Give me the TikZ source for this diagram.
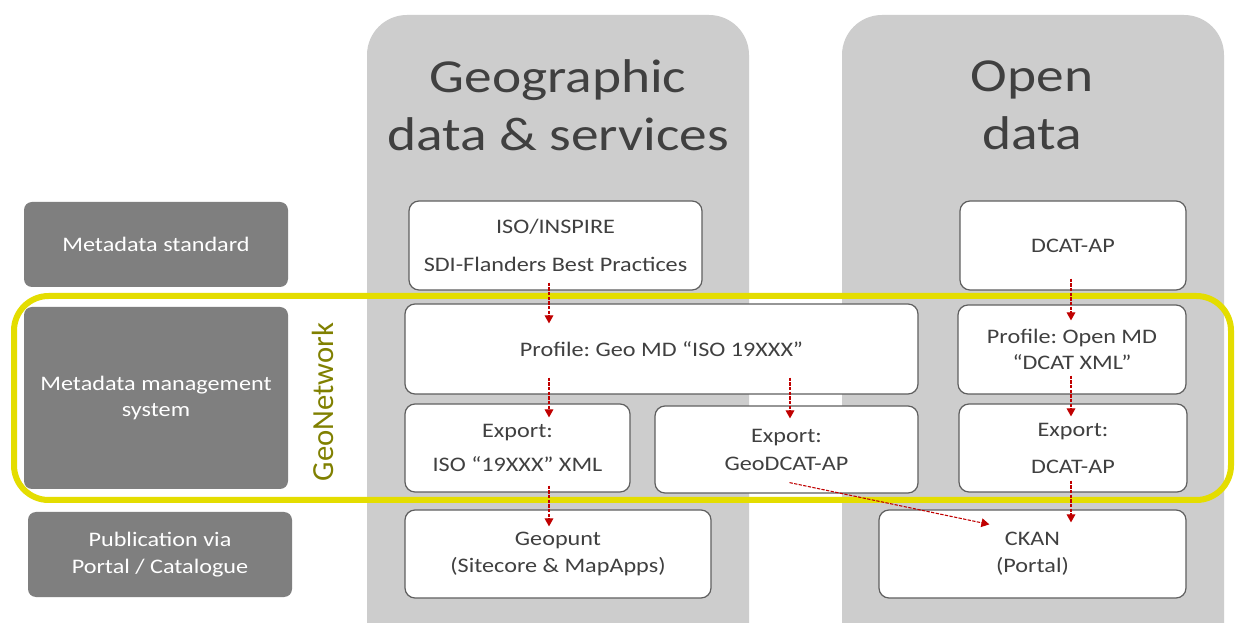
\documentclass[tikz,border=0pt]{standalone}
\usepackage{fontspec}
\setmainfont{Carlito}[FakeStretch=1.17]
\newfontfamily\gnfont{Carlito}
\usetikzlibrary{arrows.meta,calc}
\definecolor{colgray}{RGB}{205,205,205}
\definecolor{labgray}{RGB}{127,127,127}
\definecolor{txtgray}{RGB}{64,64,64}
\definecolor{edgegray}{RGB}{95,95,95}
\definecolor{gnyellow}{RGB}{228,221,0}
\definecolor{gnolive}{RGB}{128,128,0}
\definecolor{flowred}{RGB}{192,0,0}
\frenchspacing
\begin{document}
\begin{tikzpicture}[x=0.75pt, y=-0.75pt,
    font=\fontsize{15.5}{20}\selectfont,
    column/.style={fill=colgray, rounded corners=30pt},
    coltitle/.style={txtgray, align=center, inner sep=0pt, font=\fontsize{35.5}{43.5}\selectfont},
    layer/.style={fill=labgray, text=white, rounded corners=6pt, align=center, inner sep=0pt},
    mdbox/.style={draw=edgegray, line width=0.9pt, fill=white, text=txtgray, rounded corners=7.5pt, align=center, inner sep=0pt},
    flow/.style={flowred, line width=0.8pt, dash pattern=on 2.5pt off 1pt, -{Triangle[length=6pt,width=6.5pt]}}]
  \useasboundingbox (0,0) rectangle (1236,623);
  \clip (0,0) rectangle (1236,623);
  \fill[white] (0,0) rectangle (1236,623);
  \fill[column] (367,15) rectangle (749,680);
  \fill[column] (842,15) rectangle (1224,680);
  \node[coltitle] (geotitle) at (558,105) {Geographic\\data \& services};
  \node[coltitle] (opentitle) at (1032,105) {Open\\data};
  \draw[gnyellow, line width=4.5pt, rounded corners=26pt] (14,296) rectangle (1231,500);
  \node[rotate=90, gnolive, inner sep=0pt, font=\gnfont\fontsize{23}{28}\selectfont] (gn) at (323,402) {GeoNetwork};
  \node[layer, minimum width=198pt, minimum height=63.75pt] (std) at (156,244.5) {Metadata standard};
  \node[layer, minimum width=198pt, minimum height=136.5pt] (mms) at (156,398) {Metadata management\\system};
  \node[layer, minimum width=198pt, minimum height=63.75pt] (pub) at (160,554.5) {Publication via\\Portal / Catalogue};
  \node[mdbox, minimum width=219.75pt, minimum height=66.75pt] (iso) at (555.5,245.5) {ISO/INSPIRE\\[8.5pt]SDI-Flanders Best Practices};
  \node[mdbox, minimum width=384.75pt, minimum height=67.5pt] (prof) at (661.5,349) {Profile: Geo MD “ISO 19XXX”};
  \node[mdbox, minimum width=168.75pt, minimum height=66pt] (expiso) at (517.5,448) {Export:\\[5.5pt]ISO “19XXX” XML};
  \node[mdbox, minimum width=197.25pt, minimum height=65.25pt] (geodcat) at (786.5,449.5) {Export:\\[1pt]GeoDCAT-AP};
  \node[mdbox, minimum width=169.5pt, minimum height=66.75pt] (dcat) at (1073,245.5) {DCAT-AP};
  \node[mdbox, minimum width=171pt, minimum height=66.75pt] (profopen) at (1072,349.5) {Profile: Open MD\\“DCAT XML”};
  \node[mdbox, minimum width=171pt, minimum height=66pt] (expdcat) at (1073,448) {Export:\\[7.75pt]DCAT-AP};
  \node[mdbox, minimum width=229.5pt, minimum height=66pt] (geopunt) at (558,554) {Geopunt\\(Sitecore \& MapApps)};
  \node[mdbox, minimum width=230.25pt, minimum height=66pt] (ckan) at (1032.5,554) {CKAN\\(Portal)};
  \coordinate (gx) at (549,0);
  \coordinate (gy) at (790,0);
  \coordinate (ox) at (1071,0);
  \draw[flow] ($(iso.south -| gx)+(0,-8)$) -- ($(prof.north -| gx)+(0,20)$);
  \draw[flow] ($(prof.south -| gx)+(0,-17)$) -- ($(expiso.north -| gx)+(0,14)$);
  \draw[flow] ($(prof.south -| gy)+(0,-17)$) -- ($(geodcat.north -| gy)+(0,13)$);
  \draw[flow] ($(expiso.south -| gx)+(0,-7)$) -- ($(geopunt.north -| gx)+(0,17)$);
  \draw[flow] ($(dcat.south -| ox)+(0,-12)$) -- ($(profopen.north -| ox)+(0,16)$);
  \draw[flow] ($(profopen.south -| ox)+(0,-19)$) -- ($(expdcat.north -| ox)+(0,13)$);
  \draw[flow] ($(expdcat.south -| ox)+(0,-12)$) -- ($(ckan.north -| ox)+(0,13)$);
  \draw[flow] ($(geodcat.south)+(3,-11)$) -- ($(ckan.north west)+(111,15)$);
\end{tikzpicture}
\end{document}
